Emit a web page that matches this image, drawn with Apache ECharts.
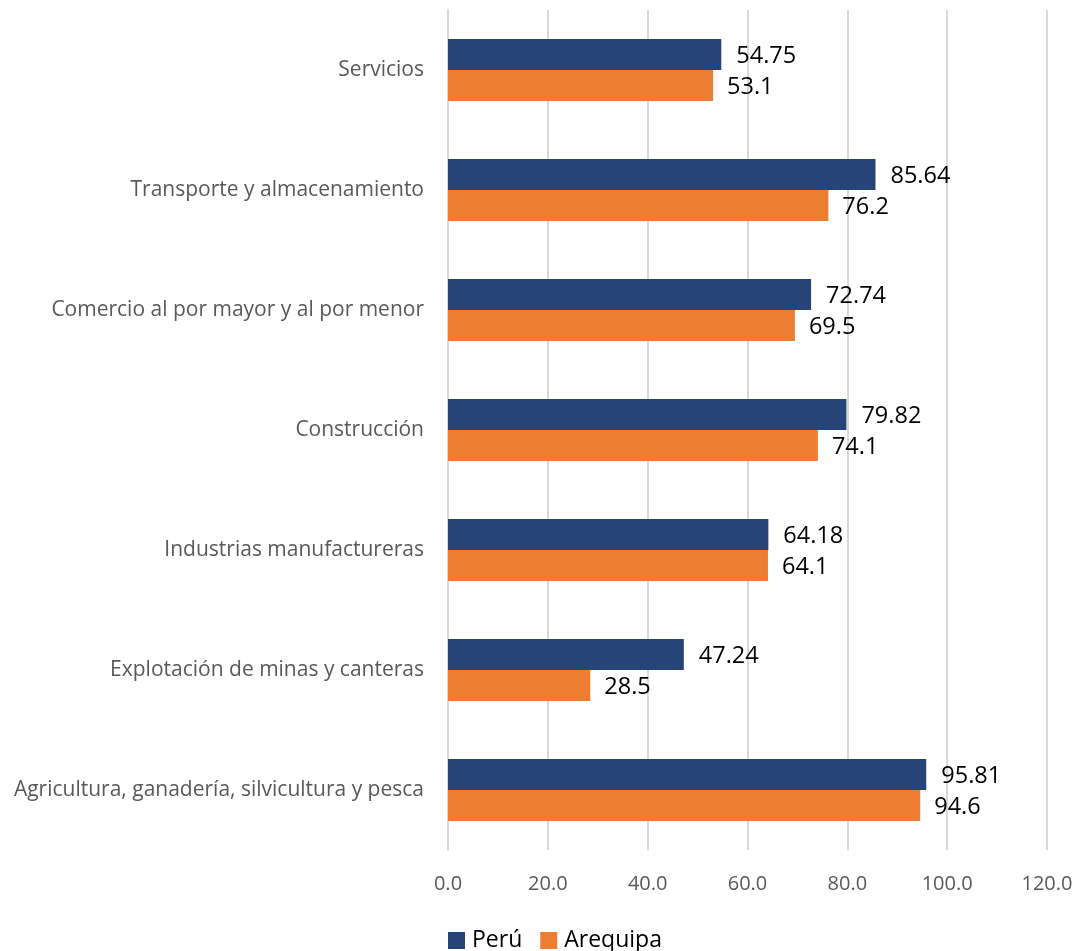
<!DOCTYPE html>
<html>
<head>
<meta charset="utf-8">
<script src="https://cdn.jsdelivr.net/npm/echarts@6/dist/echarts.min.js"></script>
<style>
html,body{margin:0;padding:0;background:#fff;}
#chart{width:1079px;height:951px;}
</style>
</head>
<body>
<div id="chart"></div>
<script>
const categories = [
  'Servicios',
  'Transporte y almacenamiento',
  'Comercio al por mayor y al por menor',
  'Construcción',
  'Industrias manufactureras',
  'Explotación de minas y canteras',
  'Agricultura, ganadería, silvicultura y pesca'
];
const peruValues = [54.75, 85.64, 72.74, 79.82, 64.18, 47.24, 95.81];
const arequipaValues = [53.1, 76.2, 69.5, 74.1, 64.1, 28.5, 94.6];
const seriesNames = ['Perú', 'Arequipa'];

const FONT = '"Open Sans", "Noto Sans", sans-serif';
const chart = echarts.init(document.getElementById('chart'), null, {renderer: 'canvas'});
chart.setOption({
  animation: false,
  backgroundColor: '#ffffff',
  grid: {left: 448, right: 32, top: 10, bottom: 101, containLabel: false},
  legend: {
    data: seriesNames,
    top: 924,
    left: 443,
    itemWidth: 17,
    itemHeight: 17,
    itemGap: 18,
    icon: 'rect',
    textStyle: {fontSize: 23, color: '#000', fontFamily: FONT, padding: [0, 0, 0, 2]}
  },
  xAxis: {
    type: 'value',
    min: 0, max: 120, interval: 20,
    axisLine: {show: false},
    axisTick: {show: false},
    splitLine: {show: true, lineStyle: {color: '#d9d9d9', width: 2}},
    axisLabel: {
      fontSize: 20, color: '#595959', fontFamily: FONT, margin: 24,
      formatter: v => v.toFixed(1)
    }
  },
  yAxis: {
    type: 'category',
    data: categories,
    inverse: true,
    axisLine: {show: true, lineStyle: {color: '#d9d9d9', width: 2}},
    axisTick: {show: false},
    axisLabel: {fontSize: 21, color: '#595959', fontFamily: FONT, margin: 24}
  },
  series: [
    {
      name: seriesNames[0], type: 'bar', data: peruValues,
      barWidth: 31, barGap: '0%',
      itemStyle: {color: '#264478'},
      label: {show: true, position: 'right', distance: 15, fontSize: 23.5, color: '#000', fontFamily: FONT, offset: [0, 1.5]}
    },
    {
      name: seriesNames[1], type: 'bar', data: arequipaValues,
      barWidth: 31, barGap: '0%',
      itemStyle: {color: '#ED7D31'},
      label: {show: true, position: 'right', distance: 14, fontSize: 23.5, color: '#000', fontFamily: FONT, offset: [0, 2]}
    }
  ]
});
</script>
</body>
</html>
